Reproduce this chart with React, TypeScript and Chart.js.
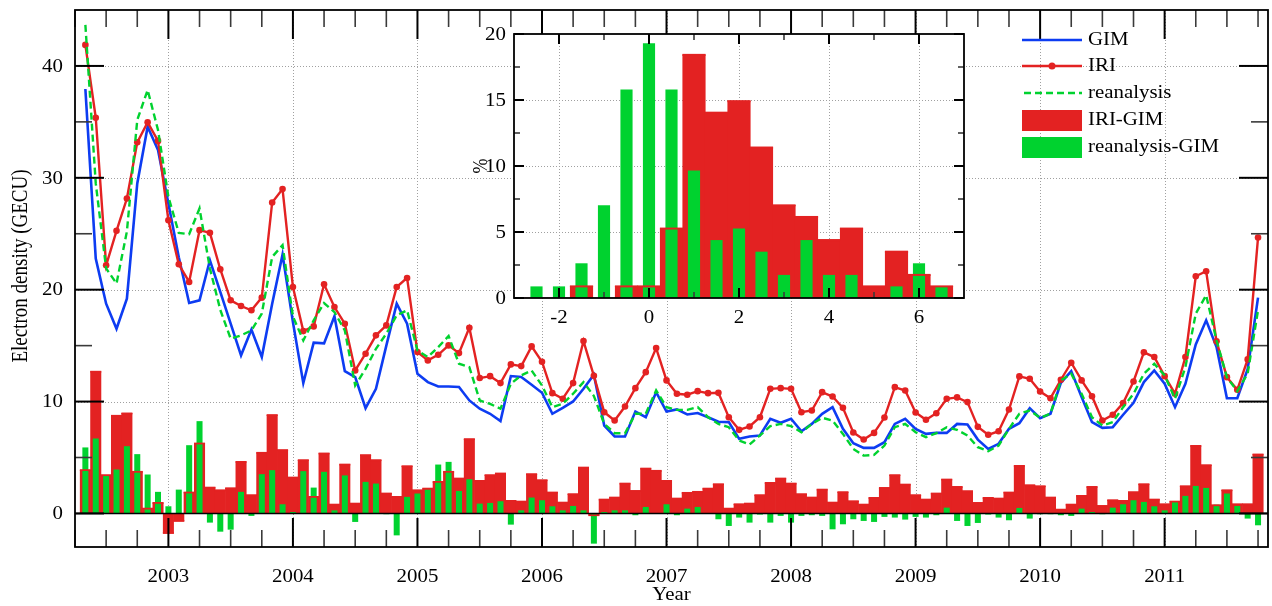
import React, { useEffect, useRef } from 'react';
import { Chart, registerables } from 'chart.js';

Chart.register(...registerables);

// ---------------- data ----------------
const FIRST_YEAR = 2002;
const FIRST_MONTH = 5; // May 2002, monthly values

const GIM = [
  37.94, 22.78, 18.75, 16.51, 19.2, 29.5, 34.57, 32.48, 27.7, 22.9,
  18.81, 19.05, 22.63, 19.8, 16.96, 14.13, 16.43, 13.98, 18.75, 23.14,
  17.1, 11.65, 15.26, 15.2, 17.62, 12.72, 12.19, 9.41, 11.14, 15.0,
  18.75, 16.96, 12.49, 11.74, 11.35, 11.35, 11.3, 10.1, 9.36, 8.91,
  8.25, 12.28, 12.19, 11.5, 10.79, 8.91, 9.44, 10.01, 11.14, 12.4,
  7.86, 6.88, 6.88, 9.11, 8.6, 10.84, 9.11, 9.3, 8.85, 8.97,
  8.6, 8.19, 8.16, 6.67, 6.88, 6.97, 8.46, 8.1, 8.46, 7.35,
  8.0, 8.9, 9.5, 7.56, 6.28, 5.86, 5.86, 6.37, 8.0, 8.46,
  7.56, 7.11, 7.2, 7.2, 8.0, 7.95, 6.6, 5.77, 6.22, 7.56,
  8.07, 9.41, 8.52, 8.91, 11.68, 12.72, 10.4, 8.16, 7.65, 7.71,
  8.82, 9.89, 11.74, 12.78, 11.59, 9.5, 11.59, 15.11, 17.26, 14.87,
  10.3, 10.3, 12.9, 19.29,
];

const IRI = [
  41.88, 35.37, 22.18, 25.26, 28.15, 33.17, 34.96, 33.3, 26.21, 22.27,
  20.69, 25.32, 25.08, 21.83, 19.05, 18.54, 18.16, 19.29, 27.8, 28.99,
  20.24, 16.3, 16.72, 20.48, 18.45, 16.96, 12.78, 14.28, 15.92, 16.81,
  20.24, 21.05, 14.42, 13.68, 14.18, 15.02, 14.33, 16.6, 12.1, 12.27,
  11.65, 13.32, 13.17, 14.93, 13.56, 10.75, 10.25, 11.65, 15.41, 12.3,
  9.05, 8.31, 9.56, 11.2, 12.63, 14.78, 11.89, 10.7, 10.61, 10.93,
  10.75, 10.78, 8.6, 7.47, 7.77, 8.6, 11.14, 11.2, 11.14, 9.05,
  9.2, 10.84, 10.45, 9.44, 7.23, 6.61, 7.2, 8.57, 11.29, 10.99,
  9.02, 8.37, 8.96, 10.25, 10.37, 9.95, 7.74, 7.03, 7.35, 9.29,
  12.25, 12.04, 10.9, 10.3, 11.95, 13.47, 11.89, 10.48, 8.31, 8.82,
  9.86, 11.8, 14.4, 13.98, 12.27, 10.7, 13.98, 21.2, 21.65, 15.38,
  12.18, 11.05, 13.77, 24.66,
];

const REANALYSIS = [
  43.67, 29.5, 21.9, 20.55, 25.2, 35.17, 37.85, 34.27, 28.3, 25.08,
  24.96, 27.26, 21.9, 18.2, 15.62, 15.92, 16.36, 17.86, 22.93, 23.98,
  17.6, 15.47, 17.26, 18.81, 18.0, 16.36, 11.44, 12.93, 14.72, 16.07,
  17.71, 18.16, 14.57, 13.98, 14.87, 15.86, 13.38, 13.08, 10.1, 9.8,
  9.36, 11.59, 12.34, 12.78, 11.44, 9.5, 9.8, 10.7, 11.74, 10.5,
  8.01, 7.17, 7.17, 8.91, 8.91, 11.0, 9.5, 9.26, 9.26, 9.5,
  8.6, 8.0, 7.71, 6.52, 6.16, 6.97, 7.8, 8.0, 7.8, 7.26,
  8.0, 8.55, 8.3, 7.11, 5.77, 5.17, 5.23, 6.07, 7.71, 8.0,
  7.26, 6.82, 7.17, 7.71, 7.47, 6.97, 5.92, 5.56, 6.07, 7.56,
  8.91, 9.2, 8.55, 8.91, 11.89, 12.49, 10.69, 8.6, 7.86, 8.16,
  9.5, 10.69, 12.49, 13.38, 12.34, 10.25, 13.08, 17.86, 19.5, 15.47,
  12.18, 10.93, 12.5, 18.16,
];

const IRI_GIM = [
  3.87, 12.67, 3.42, 8.73, 8.94, 3.72, 0.43, 0.94, -1.75, -0.67,
  1.87, 6.25, 2.31, 2.07, 2.25, 4.61, 1.63, 5.42, 8.79, 5.66,
  3.21, 4.76, 1.48, 5.36, 0.79, 4.37, 0.88, 5.21, 4.76, 1.78,
  1.48, 4.22, 2.07, 2.22, 2.82, 3.72, 3.12, 6.64, 2.91, 3.42,
  3.57, 1.12, 1.06, 3.51, 2.97, 1.87, 0.97, 1.72, 4.1, -0.16,
  1.24, 1.42, 2.67, 2.01, 4.01, 3.81, 2.91, 1.33, 1.84, 1.93,
  2.22, 2.61, 0.43, 0.82, 0.88, 1.63, 2.73, 3.12, 2.67, 1.72,
  1.42, 2.13, 0.97, 1.9, 1.09, 0.79, 1.39, 2.28, 3.42, 2.58,
  1.63, 1.24, 1.78, 3.03, 2.37, 1.99, 0.94, 1.39, 1.33, 1.87,
  4.25, 2.52, 2.43, 1.42, 0.34, 0.79, 1.57, 2.37, 0.67, 1.18,
  1.12, 1.9, 2.61, 1.24, 0.82, 1.06, 2.43, 6.04, 4.31, 0.73,
  2.07, 0.82, 0.82, 5.27,
];

const REANALYSIS_GIM = [
  5.9, 6.7, 3.42, 3.93, 6.01, 5.3, 3.48, 1.93, 0.64, 2.13,
  6.1, 8.25, -0.82, -1.63, -1.45, 1.93, -0.22, 3.51, 3.87, 0.82,
  0.13, 3.78, 2.31, 3.72, 0.28, 3.4, -0.76, 2.82, 2.67, -0.07,
  -1.96, 1.48, 1.78, 2.13, 4.37, 4.61, 2.01, 3.06, 0.88, 0.94,
  1.09, -1.0, 0.28, 1.42, 1.18, 0.64, 0.28, 0.67, 0.28, -2.7,
  0.13, 0.28, 0.28, -0.16, 0.58, 0.04, 0.82, -0.16, 0.43, 0.58,
  0.0, -0.52, -1.12, -0.37, -0.82, -0.1, -0.82, -0.22, -0.82, -0.22,
  -0.16, -0.22, -1.42, -0.97, -0.52, -0.67, -0.76, -0.31, -0.37, -0.55,
  -0.31, -0.37, -0.16, 0.52, -0.67, -1.12, -0.85, -0.1, -0.37, -0.61,
  0.49, -0.46, -0.07, -0.07, -0.16, -0.22, 0.43, 0.13, -0.07, 0.52,
  0.82, 1.18, 1.03, 0.64, 0.28, 1.03, 1.57, 2.46, 2.28, 0.79,
  1.78, 0.67, -0.46, -1.06,
];

const YEAR_TICKS = [2003, 2004, 2005, 2006, 2007, 2008, 2009, 2010, 2011];
const Y_TICKS = [0, 10, 20, 30, 40];

// inset histogram (% of months per 0.5 GECU bin)
const HIST_CENTERS = [-2.5, -2, -1.5, -1, -0.5, 0, 0.5, 1, 1.5, 2, 2.5, 3, 3.5, 4, 4.5, 5, 5.5, 6, 6.5];
const HIST_IRI = [0, 0, 0.88, 0, 0.88, 0.88, 5.26, 18.42, 14.04, 14.91, 11.4, 7.02, 6.14, 4.39, 5.26, 0.88, 3.51, 1.75, 0.88];
const HIST_REA = [0.88, 0.88, 2.63, 7.02, 15.79, 19.3, 15.79, 9.65, 4.39, 5.26, 3.51, 1.75, 4.39, 1.75, 1.75, 0, 0.88, 2.63, 0.88];
const HIST_X_TICKS = [-2, 0, 2, 4, 6];
const HIST_Y_TICKS = [0, 5, 10, 15, 20];

// ---------------- style ----------------
const BLUE = '#0d3cf2';
const RED = '#e32222';
const GREEN = '#00d22f';
const GRID = '#a0a0a0';
const SERIF = '"Liberation Serif", "Times New Roman", Times, serif';
const SX = 1.16; // horizontal stretch of the original text
const FS = 18;

const MONTH_X = GIM.map((_, i) => FIRST_YEAR + (FIRST_MONTH - 1 + i) / 12);
const pts = (arr: number[]) => arr.map((v, i) => ({ x: MONTH_X[i], y: v }));

function txt(ctx: CanvasRenderingContext2D, s: string, x: number, y: number, align: CanvasTextAlign, rot = false, size = FS) {
  ctx.save();
  ctx.translate(x, y);
  if (rot) {
    ctx.rotate(-Math.PI / 2);
    ctx.scale(1, SX);
  } else {
    ctx.scale(SX, 1);
  }
  ctx.font = `${size}px ${SERIF}`;
  ctx.fillStyle = '#000';
  ctx.textAlign = align;
  ctx.textBaseline = 'middle';
  ctx.fillText(s, 0, 0);
  ctx.restore();
}

function seg(ctx: CanvasRenderingContext2D, x1: number, y1: number, x2: number, y2: number) {
  ctx.beginPath();
  ctx.moveTo(x1, y1);
  ctx.lineTo(x2, y2);
  ctx.stroke();
}

function drawFrameTicks(
  ctx: CanvasRenderingContext2D, a: any, xs: any, ys: any,
  xMajor: number[], xMinor: number[], yMajor: number[], yMinor: number[],
  majLen: number, minLen: number,
) {
  ctx.save();
  ctx.setLineDash([]);
  ctx.lineCap = 'butt';
  const tickX = (vals: number[], len: number, col: string, w: number) => {
    ctx.strokeStyle = col;
    ctx.lineWidth = w;
    vals.forEach((v) => {
      const px = xs.getPixelForValue(v);
      seg(ctx, px, a.bottom, px, a.bottom - len);
      seg(ctx, px, a.top, px, a.top + len);
    });
  };
  const tickY = (vals: number[], len: number, col: string, w: number) => {
    ctx.strokeStyle = col;
    ctx.lineWidth = w;
    vals.forEach((v) => {
      const py = ys.getPixelForValue(v);
      seg(ctx, a.left, py, a.left + len, py);
      seg(ctx, a.right, py, a.right - len, py);
    });
  };
  tickX(xMinor, minLen, '#3a3a3a', 1.6);
  tickY(yMinor, minLen, '#3a3a3a', 1.6);
  tickX(xMajor, majLen, '#000', 2);
  tickY(yMajor, majLen, '#000', 2);
  ctx.strokeStyle = '#000';
  ctx.lineWidth = 1.8;
  ctx.strokeRect(a.left, a.top, a.right - a.left, a.bottom - a.top);
  ctx.restore();
}

function dottedGrid(ctx: CanvasRenderingContext2D, a: any, xs: any, ys: any, xv: number[], yv: number[]) {
  ctx.save();
  ctx.strokeStyle = GRID;
  ctx.lineWidth = 1;
  ctx.setLineDash([1, 2]);
  xv.forEach((v) => {
    const px = Math.round(xs.getPixelForValue(v)) + 0.5;
    seg(ctx, px, a.top, px, a.bottom);
  });
  yv.forEach((v) => {
    const py = Math.round(ys.getPixelForValue(v)) + 0.5;
    seg(ctx, a.left, py, a.right, py);
  });
  ctx.restore();
}

const X_MIN = 2002.25;
const X_MAX = 2011.83;
const Y_MIN = -3;
const Y_MAX = 45;

const mainDecor = {
  id: 'mainDecor',
  beforeDatasetsDraw(chart: any) {
    const { ctx, chartArea: a, scales } = chart;
    dottedGrid(ctx, a, scales.x, scales.y, YEAR_TICKS, Y_TICKS.filter((v) => v > 0));
  },
  afterDatasetsDraw(chart: any) {
    const { ctx, chartArea: a, scales } = chart;
    const xs = scales.x;
    const ys = scales.y;
    // zero line
    ctx.save();
    ctx.strokeStyle = '#000';
    ctx.lineWidth = 1.6;
    const y0 = ys.getPixelForValue(0);
    seg(ctx, a.left, y0, a.right, y0);
    ctx.restore();

    const xMinor: number[] = [];
    for (let q = 0; 2002.25 + q * 0.25 < X_MAX; q++) {
      const v = 2002.25 + q * 0.25;
      if (q % 4 !== 3) xMinor.push(v);
    }
    const yMinor = [5, 15, 25, 35];
    drawFrameTicks(ctx, a, xs, ys, YEAR_TICKS, xMinor, Y_TICKS, yMinor, 29, 17);

    // tick labels
    Y_TICKS.forEach((v) => txt(ctx, String(v), 63, ys.getPixelForValue(v) + 1, 'right'));
    YEAR_TICKS.forEach((v) => txt(ctx, String(v), xs.getPixelForValue(v), 577, 'center'));
    txt(ctx, 'Year', (a.left + a.right) / 2, 595, 'center');
    txt(ctx, 'Electron density (GECU)', 21, 266, 'center', true, 19);

    // legend
    ctx.save();
    const lx1 = 1022;
    const lx2 = 1082;
    const tx = 1088;
    ctx.lineWidth = 2.5;
    ctx.strokeStyle = BLUE;
    seg(ctx, lx1, 40, lx2, 40);
    ctx.strokeStyle = RED;
    seg(ctx, lx1, 66, lx2, 66);
    ctx.fillStyle = RED;
    ctx.beginPath();
    ctx.arc((lx1 + lx2) / 2, 66, 3.5, 0, Math.PI * 2);
    ctx.fill();
    ctx.strokeStyle = GREEN;
    ctx.setLineDash([7, 4]);
    seg(ctx, lx1 + 2, 93, lx2, 93);
    ctx.setLineDash([]);
    ctx.fillStyle = RED;
    ctx.fillRect(lx1, 110, lx2 - lx1, 21);
    ctx.fillStyle = GREEN;
    ctx.fillRect(lx1, 137, lx2 - lx1, 21);
    ctx.restore();
    txt(ctx, 'GIM', tx, 40, 'left');
    txt(ctx, 'IRI', tx, 66, 'left');
    txt(ctx, 'reanalysis', tx, 93, 'left');
    txt(ctx, 'IRI-GIM', tx, 120.5, 'left');
    txt(ctx, 'reanalysis-GIM', tx, 147.5, 'left');
  },
};

const insetDecor = {
  id: 'insetDecor',
  beforeDraw(chart: any) {
    const { ctx, chartArea: a } = chart;
    ctx.save();
    ctx.fillStyle = '#fff';
    ctx.fillRect(a.left, a.top, a.right - a.left, a.bottom - a.top);
    ctx.restore();
  },
  beforeDatasetsDraw(chart: any) {
    const { ctx, chartArea: a, scales } = chart;
    dottedGrid(ctx, a, scales.x, scales.y, HIST_X_TICKS, [5, 10, 15]);
  },
  afterDatasetsDraw(chart: any) {
    const { ctx, chartArea: a, scales } = chart;
    const xs = scales.x;
    const ys = scales.y;
    drawFrameTicks(ctx, a, xs, ys, HIST_X_TICKS, [-1, 1, 3, 5], HIST_Y_TICKS, [2.5, 7.5, 12.5, 17.5], 10, 6);
    HIST_Y_TICKS.forEach((v) => txt(ctx, String(v), a.left - 8, ys.getPixelForValue(v) + 1, 'right'));
    HIST_X_TICKS.forEach((v) => txt(ctx, String(v), xs.getPixelForValue(v), a.bottom + 20, 'center'));
    txt(ctx, '%', a.left - 32, (a.top + a.bottom) / 2, 'center', true);
  },
};

export default function App() {
  const mainRef = useRef<HTMLCanvasElement>(null);
  const insetRef = useRef<HTMLCanvasElement>(null);

  useEffect(() => {
    const main = new Chart(mainRef.current as HTMLCanvasElement, {
      type: 'bar',
      data: {
        datasets: [
          {
            type: 'bar', label: 'IRI-GIM', data: pts(IRI_GIM) as any,
            backgroundColor: RED, borderWidth: 0, grouped: false,
            barPercentage: 1, categoryPercentage: 1, order: 10,
          },
          {
            type: 'bar', label: 'reanalysis-GIM', data: pts(REANALYSIS_GIM) as any,
            backgroundColor: GREEN, borderWidth: 0, grouped: false,
            barPercentage: 0.58, categoryPercentage: 1, order: 9,
          },
          {
            type: 'bar', label: 'IRI-GIM edge',
            data: IRI_GIM.map((v, i) => ({ x: MONTH_X[i], y: [v - 0.05, v + 0.05] })) as any,
            backgroundColor: RED, borderWidth: 0, grouped: false,
            barPercentage: 1, categoryPercentage: 1, order: 8,
          },
          {
            type: 'line', label: 'GIM', data: pts(GIM) as any,
            borderColor: BLUE, borderWidth: 2.6, pointRadius: 0, tension: 0, order: 3,
          },
          {
            type: 'line', label: 'IRI', data: pts(IRI) as any,
            borderColor: RED, backgroundColor: RED, borderWidth: 2.4,
            pointRadius: 3.3, pointBackgroundColor: RED, pointBorderColor: RED, pointBorderWidth: 0,
            tension: 0, order: 2,
          },
          {
            type: 'line', label: 'reanalysis', data: pts(REANALYSIS) as any,
            borderColor: GREEN, borderWidth: 2.4, borderDash: [7, 4], pointRadius: 0, tension: 0, order: 1,
          },
        ],
      },
      options: {
        animation: false,
        responsive: false,
        devicePixelRatio: 1,
        layout: { padding: { top: 10, right: 1, left: 0, bottom: 0 } },
        plugins: { legend: { display: false }, tooltip: { enabled: false } },
        scales: {
          x: {
            type: 'linear', min: X_MIN, max: X_MAX, offset: false,
            grid: { display: false }, border: { display: false }, ticks: { display: false },
            afterFit: (s: any) => { s.height = 59; },
          },
          y: {
            type: 'linear', min: Y_MIN, max: Y_MAX,
            grid: { display: false }, border: { display: false }, ticks: { display: false },
            afterFit: (s: any) => { s.width = 75; },
          },
        },
      } as any,
      plugins: [mainDecor],
    });

    const inset = new Chart(insetRef.current as HTMLCanvasElement, {
      type: 'bar',
      data: {
        datasets: [
          {
            label: 'IRI-GIM', data: HIST_CENTERS.map((c, i) => ({ x: c, y: HIST_IRI[i] })) as any,
            backgroundColor: RED, borderWidth: 0, grouped: false,
            barPercentage: 1, categoryPercentage: 1, order: 3,
          },
          {
            label: 'reanalysis-GIM', data: HIST_CENTERS.map((c, i) => ({ x: c, y: HIST_REA[i] })) as any,
            backgroundColor: GREEN, borderWidth: 0, grouped: false,
            barPercentage: 0.54, categoryPercentage: 1, order: 2,
          },
          {
            label: 'IRI-GIM edge',
            data: HIST_CENTERS.map((c, i) => ({ x: c, y: HIST_IRI[i] > 0 ? [HIST_IRI[i] - 0.05, HIST_IRI[i] + 0.05] : null })) as any,
            backgroundColor: RED, borderWidth: 0, grouped: false,
            barPercentage: 1, categoryPercentage: 1, order: 1,
          },
        ],
      },
      options: {
        animation: false,
        responsive: false,
        devicePixelRatio: 1,
        layout: { padding: { top: 14, right: 26, left: 0, bottom: 0 } },
        plugins: { legend: { display: false }, tooltip: { enabled: false } },
        scales: {
          x: {
            type: 'linear', min: -3, max: 7, offset: false,
            grid: { display: false }, border: { display: false }, ticks: { display: false },
            afterFit: (s: any) => { s.height = 42; },
          },
          y: {
            type: 'linear', min: 0, max: 20,
            grid: { display: false }, border: { display: false }, ticks: { display: false },
            afterFit: (s: any) => { s.width = 84; },
          },
        },
      } as any,
      plugins: [insetDecor],
    });

    return () => {
      main.destroy();
      inset.destroy();
    };
  }, []);

  return (
    <div style={{ position: 'fixed', left: 0, top: 0, width: 1272, height: 606, background: '#fff' }}>
      <canvas ref={mainRef} width={1272} height={606} style={{ position: 'absolute', left: 0, top: 0, display: 'block' }} />
      <canvas ref={insetRef} width={560} height={320} style={{ position: 'absolute', left: 430, top: 20, display: 'block' }} />
    </div>
  );
}
